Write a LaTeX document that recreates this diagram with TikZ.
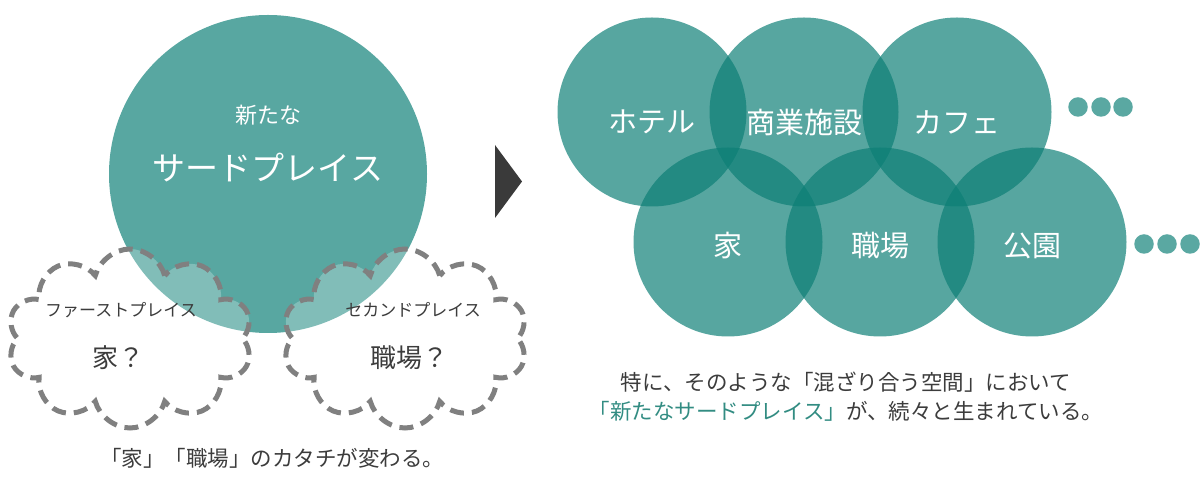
\documentclass[tikz,border=0pt]{standalone}
\usepackage{fontspec}
\setmainfont{Noto Sans CJK JP}
\usepackage{xcolor}
\usetikzlibrary{shapes,positioning}

\definecolor{bigteal}{RGB}{88,167,161}
\definecolor{circteal}{RGB}{12,126,117}
\definecolor{dotteal}{RGB}{90,168,162}
\definecolor{cloudgray}{RGB}{128,128,128}
\definecolor{textgray}{RGB}{60,60,60}
\definecolor{arrowgray}{RGB}{58,58,58}
\definecolor{accentteal}{RGB}{50,140,130}

\tikzset{
    puff/.style={cloud, cloud puffs=10, cloud puff arc=150, aspect=1.3, draw=cloudgray, line width=5pt,
        dash pattern=on 14pt off 8pt, fill=white, fill opacity=0.25,
        minimum width=245pt, minimum height=179pt},
    place/.style={circle, fill=circteal, fill opacity=0.69, minimum size=189pt, inner sep=0pt},
    placelabel/.style={text=white, font=\fontsize{29}{32}\selectfont},
    moredot/.style={circle, fill=dotteal, minimum size=19.5pt, inner sep=0pt},
    caption/.style={text=textgray, font=\fontsize{21.5}{25}\selectfont, inner sep=0pt}
}

\begin{document}
\begin{tikzpicture}[x=1pt,y=1pt]
    \useasboundingbox (0,0) rectangle (1200,489);

    % New third place
    \node[circle, fill=bigteal, minimum size=318pt, inner sep=0pt] (third) at (268,315) {};
    \node[text=white, font=\fontsize{22}{26}\selectfont] (thirdnew) at (268,374) {新たな};
    \node[text=white, font=\fontsize{33}{38}\selectfont] (thirdname) at (268,321) {サードプレイス};

    % Arrow
    \fill[arrowgray] (495,344) -- (495,271) -- (522,307.5) -- cycle;

    % First and second place
    \node[puff] (first) at (130,150.5) {};
    \node[puff] (second) at (405,150.5) {};
    \node[text=textgray, font=\fontsize{17}{20}\selectfont] (firstname) at (121,179) {ファーストプレイス};
    \node[text=textgray, font=\fontsize{26}{30}\selectfont] (firstq) at (118,131) {家？};
    \node[text=textgray, font=\fontsize{17}{20}\selectfont] (secondname) at (413,179) {セカンドプレイス};
    \node[text=textgray, font=\fontsize{26}{30}\selectfont] (secondq) at (409,131) {職場？};
    \node[caption] (changes) at (272,31) {「家」「職場」のカタチが変わる。};

    % Mixed places
    \foreach \n/\x/\y in {hotel/652/377, mall/804/377, cafe/957/377, home/728/247, work/880/247, park/1032/247}
        \node[place] (\n) at (\x,\y) {};
    \foreach \n/\x/\y/\t in {hotel/652/367/ホテル, mall/804/367/商業施設, cafe/957/367/カフェ, home/728/243/家, work/880/243/職場, park/1032/243/公園}
        \node[placelabel] (\n-label) at (\x,\y) {\t};
    \foreach \i/\x/\y in {1/1078/382, 2/1101/382, 3/1123/382, 4/1144/245, 5/1167/245, 6/1190/245}
        \node[moredot] (dot\i) at (\x,\y) {};

    \node[caption] (mixed) at (846,107) {特に、そのような「混ざり合う空間」において};
    \node[caption] (born) at (846,78) {\textcolor{accentteal}{「新たなサードプレイス」}が、続々と生まれている。};
\end{tikzpicture}
\end{document}
